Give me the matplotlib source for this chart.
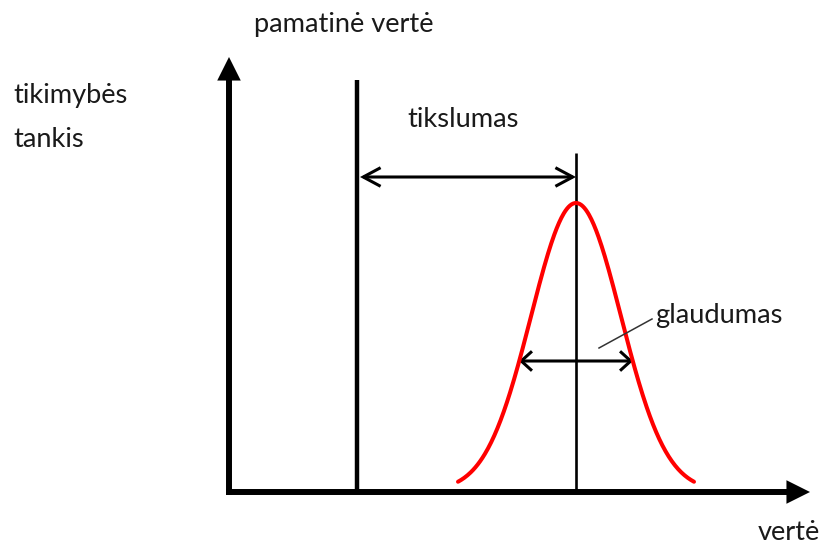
import numpy as np
import matplotlib.pyplot as plt
from matplotlib.patches import FancyArrowPatch

# -----------------------------
# Diagram quantities (units: px from axis origin)
# -----------------------------
X_AXIS_END = 581
Y_AXIS_END = 435
REF_VALUE = 128          # pamatinė vertė
REF_TOP = 412
MEAN_VALUE = 347         # mean of the measured distribution
MEAN_TOP = 339
SIGMA = 45
PEAK = 288
CURVE_BASE = 1
CURVE_HALF_RANGE = 118
ACC_ARROW_Y = 315        # tikslumas
ACC_ARROW_X = [131, 347]
PREC_ARROW_Y = 131       # glaudumas
PREC_ARROW_X = [290, 404]
LEADER_X = [370, 423]
LEADER_Y = [144, 173]

labels = {
    "pamatinė vertė": (25, 460),
    "tikimybės": (-216, 389),
    "tankis": (-216, 345),
    "tikslumas": (178, 365),
    "glaudumas": (426, 169),
    "vertė": (529, -48),
}

FONT = "Lato"
FS = 19.6

fig = plt.figure(figsize=(8.21, 5.46), dpi=100)
ax = fig.add_axes([0, 0, 1, 1])
ax.set_xlim(-229, 592)
ax.set_ylim(-54, 492)
ax.axis("off")


def arrow(p0, p1, style, lw, ms=1):
    a = FancyArrowPatch(p0, p1, arrowstyle=style, lw=lw, color="black",
                        shrinkA=0, shrinkB=0, mutation_scale=ms,
                        joinstyle="miter", capstyle="butt")
    ax.add_patch(a)


# axes with filled heads
arrow((0, -3), (0, Y_AXIS_END), "-|>,head_length=10,head_width=5", 4.3)
arrow((-3, 0), (X_AXIS_END, 0), "-|>,head_length=10,head_width=5", 4.3)

# reference value and mean lines
ax.plot([REF_VALUE, REF_VALUE], [0, REF_TOP], color="black", lw=3.2, solid_capstyle="butt")
ax.plot([MEAN_VALUE, MEAN_VALUE], [0, MEAN_TOP], color="black", lw=1.9, solid_capstyle="butt")

# probability density curve
x = np.linspace(MEAN_VALUE - CURVE_HALF_RANGE, MEAN_VALUE + CURVE_HALF_RANGE, 300)
y = CURVE_BASE + PEAK * np.exp(-(x - MEAN_VALUE) ** 2 / (2 * SIGMA ** 2))
ax.plot(x, y, color="#ff0000", lw=2.9, solid_capstyle="round")

# accuracy / precision double arrows
arrow((ACC_ARROW_X[0], ACC_ARROW_Y), (ACC_ARROW_X[1], ACC_ARROW_Y),
      "<->,head_length=12.5,head_width=6.7", 2.2)
arrow((PREC_ARROW_X[0], PREC_ARROW_Y), (PREC_ARROW_X[1], PREC_ARROW_Y),
      "<->,head_length=7.7,head_width=7", 2.2)

# leader line for glaudumas
ax.plot(LEADER_X, LEADER_Y, color="#333333", lw=1.1)

for txt, (tx, ty) in labels.items():
    ax.text(tx, ty, txt, fontsize=FS, family=FONT, color="#1a1a1a",
            ha="left", va="baseline")

fig.savefig("out.png", dpi=100)
